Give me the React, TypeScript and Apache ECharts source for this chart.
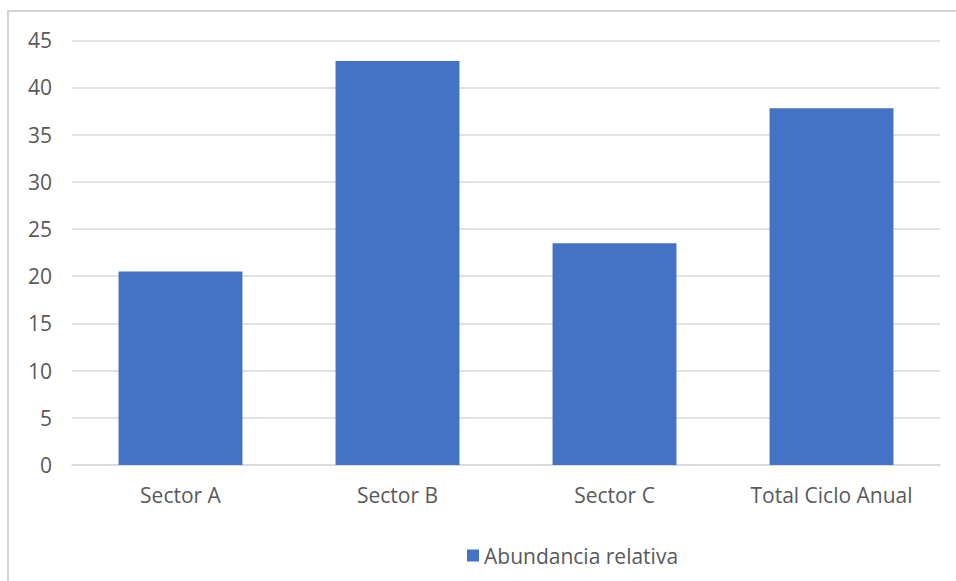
import React, { useEffect, useRef } from "react";
import * as echarts from "echarts";

// Relative abundance per sector and for the whole annual cycle
const categories = ["Sector A", "Sector B", "Sector C", "Total Ciclo Anual"];
const abundance = [20.5, 42.8, 23.5, 37.8];
const seriesName = "Abundancia relativa";
const yMin = 0;
const yMax = 45;
const yStep = 5;

const FONT = "'Open Sans', 'Noto Sans', sans-serif";
const TEXT_COLOR = "#595959";
const GRID_COLOR = "#d9d9d9";
const BAR_COLOR = "#4472C4";

export default function App() {
  const ref = useRef<HTMLDivElement>(null);

  useEffect(() => {
    if (!ref.current) return;
    const chart = echarts.init(ref.current, undefined, { renderer: "svg" });
    chart.setOption({
      animation: false,
      backgroundColor: "#ffffff",
      textStyle: { fontFamily: FONT },
      graphic: [
        {
          type: "rect",
          shape: { x: 8, y: 11, width: 1000, height: 700 },
          style: { fill: "none", stroke: "#d4d4d4", lineWidth: 2 },
          silent: true,
        },
      ],
      grid: { left: 72, right: 16, top: 40.3, bottom: 116 },
      legend: {
        data: [seriesName],
        left: 462,
        top: 540,
        itemWidth: 12,
        itemHeight: 12,
        itemGap: 8,
        icon: "rect",
        textStyle: { color: TEXT_COLOR, fontSize: 21, fontFamily: FONT },
      },
      xAxis: {
        type: "category",
        data: categories,
        axisLine: { show: true, lineStyle: { color: GRID_COLOR, width: 1.5 } },
        axisTick: { show: false },
        axisLabel: { color: TEXT_COLOR, fontSize: 21, margin: 19, fontFamily: FONT },
      },
      yAxis: {
        type: "value",
        min: yMin,
        max: yMax,
        interval: yStep,
        axisLine: { show: false },
        axisTick: { show: false },
        axisLabel: { color: TEXT_COLOR, fontSize: 21, margin: 20, fontFamily: FONT },
        splitLine: { lineStyle: { color: GRID_COLOR, width: 1.5 } },
      },
      series: [
        {
          name: seriesName,
          type: "bar",
          data: abundance,
          barWidth: "57.1%",
          itemStyle: { color: BAR_COLOR },
        },
      ],
    });
    return () => chart.dispose();
  }, []);

  return (
    <div
      ref={ref}
      style={{ position: "fixed", left: 0, top: 0, width: 956, height: 581 }}
    />
  );
}
